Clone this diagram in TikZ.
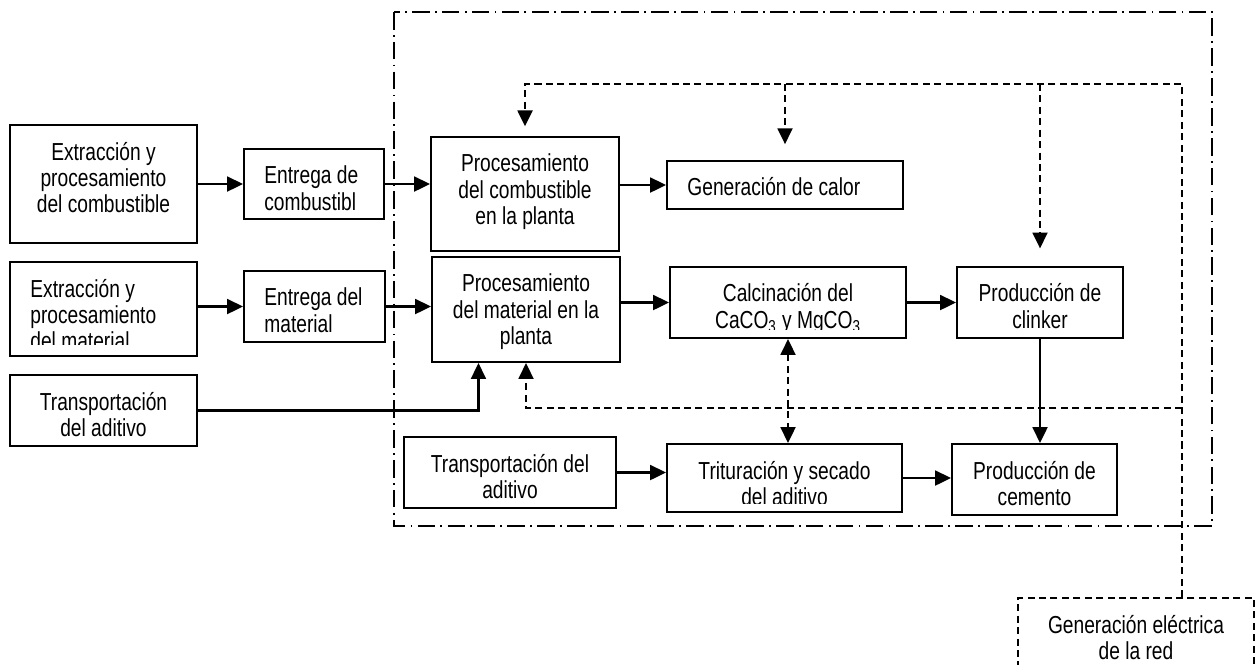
\documentclass[tikz,border=0pt]{standalone}
\usepackage{fontspec}
\setmainfont{Liberation Sans}[FakeStretch=0.78]
\usetikzlibrary{calc,arrows.meta,positioning}

\begin{document}
\begin{tikzpicture}[x=0.02cm,y=-0.02cm,
  recorte/.store in=\recorte, recorte=5pt,
  caja/.style={draw,line width=1.2pt,inner sep=0pt},
  texto/.style={draw=none,inner sep=0pt,minimum width=0pt,minimum height=0pt,font=\fontsize{14}{15}\selectfont},
  rotulo/.style={path picture={
      \clip ([yshift=\recorte]path picture bounding box.south west) rectangle (path picture bounding box.north east);
      \node[texto,anchor=north,align=center] at ([yshift=-9pt]path picture bounding box.north) {#1};}},
  rotuloizq/.style={path picture={
      \clip ([yshift=\recorte]path picture bounding box.south west) rectangle (path picture bounding box.north east);
      \node[texto,anchor=north west,align=left] at ([xshift=11pt,yshift=-9pt]path picture bounding box.north west) {#1};}},
  discontinua/.style={line width=1.2pt,dash pattern=on 4pt off 2.5pt},
  marco/.style={line width=1.2pt,dash pattern=on 10pt off 3pt on 1pt off 3pt},
  flecha/.style={line width=1.2pt,-{Triangle[length=9pt,width=8.5pt]}},
  flechadoble/.style={line width=1.2pt,{Triangle[length=9pt,width=8.5pt]}-{Triangle[length=9pt,width=8.5pt]}}]

  \useasboundingbox (0,0) rectangle (1256,664);
  \fill[white] (0,0) rectangle (1256,664);

  % the frame of the plant
  \draw[marco] (394,12) rectangle (1212,526);

  % boxes, text hangs from the top and is cut near the border
  \node[caja,minimum width=3.74cm,minimum height=2.36cm,rotulo={Extracción y\\procesamiento\\del combustible}] (extcomb) at (103.5,184) {};
  \node[caja,minimum width=2.8cm,minimum height=1.4cm,rotuloizq={Entrega de\\combustibl}] (entcomb) at (314,184) {};
  \node[caja,minimum width=3.76cm,minimum height=2.28cm,rotulo={Procesamiento\\del combustible\\en la planta}] (proccomb) at (525,194) {};
  \node[caja,minimum width=4.72cm,minimum height=0.96cm,rotuloizq={Generación de calor}] (gencal) at (785,185) {};
  \node[caja,recorte=6.3pt,minimum width=3.74cm,minimum height=1.88cm,rotuloizq={Extracción y\\procesamiento\\del material}] (extmat) at (103.5,309) {};
  \node[caja,minimum width=2.82cm,minimum height=1.42cm,rotuloizq={Entrega del\\material}] (entmat) at (314.5,306.5) {};
  \node[caja,minimum width=3.76cm,minimum height=2.1cm,rotulo={Procesamiento\\del material en la\\planta}] (procmat) at (526,309.5) {};
  \node[caja,minimum width=4.72cm,minimum height=1.42cm,rotulo={Calcinación del\\CaCO\textsubscript{3} y MgCO\textsubscript{3}}] (calc) at (788,302.5) {};
  \node[caja,minimum width=3.32cm,minimum height=1.42cm,rotulo={Producción de\\clinker}] (clinker) at (1040,302.5) {};
  \node[caja,minimum width=3.74cm,minimum height=1.42cm,rotulo={Transportación\\del aditivo}] (transa) at (103.5,410.5) {};
  \node[caja,minimum width=4.24cm,minimum height=1.42cm,rotulo={Transportación del\\aditivo}] (transb) at (510,472.5) {};
  \node[caja,minimum width=4.7cm,minimum height=1.36cm,rotulo={Trituración y secado\\del aditivo}] (trit) at (784.5,478) {};
  \node[caja,minimum width=3.3cm,minimum height=1.42cm,rotulo={Producción de\\cemento}] (cemento) at (1034.5,479.5) {};

  % the grid outside the plant
  \node[caja,discontinua,minimum width=4.72cm,minimum height=1.4cm,rotulo={Generación eléctrica\\de la red}] (genel) at (1136,633) {};

  % solid flows
  \draw[flecha] (extcomb.east |- entcomb.west) -- (entcomb.west);
  \draw[flecha] (entcomb.east) -- (entcomb.east -| proccomb.west);
  \draw[flecha] (proccomb.east |- gencal.west) -- (gencal.west);
  \draw[flecha] (extmat.east |- entmat.west) -- (entmat.west);
  \draw[flecha] (entmat.east) -- (entmat.east -| procmat.west);
  \draw[flecha] (procmat.east |- calc.west) -- (calc.west);
  \draw[flecha] (calc.east) -- (clinker.west);
  \draw[flecha] (transa.east) -| ($(procmat.south west)!0.25!(procmat.south east)$);
  \draw[flecha] (transb.east) -- (transb.east -| trit.west);
  \draw[flecha] (trit.east) -- (trit.east -| cemento.west);
  \draw[flecha] (clinker.south) -- (clinker.south |- cemento.north);

  % electric energy (dashed)
  \coordinate (esqSup) at (1182,84);
  \coordinate (esqInf) at (1182,408);
  \draw[discontinua,flecha,shorten >=5.5pt] (genel.north -| esqSup) -- (esqSup) -- (proccomb.north |- esqSup) -- (proccomb.north);
  \draw[discontinua,flecha,shorten >=9pt] (gencal.north |- esqSup) -- (gencal.north);
  \draw[discontinua,flecha,shorten >=10pt] (clinker.north |- esqSup) -- (clinker.north);
  \draw[discontinua,flecha] (esqInf) -- (procmat.south |- esqInf) -- (procmat.south);
  \draw[discontinua,flechadoble] (calc.south) -- (calc.south |- trit.north);

\end{tikzpicture}
\end{document}
